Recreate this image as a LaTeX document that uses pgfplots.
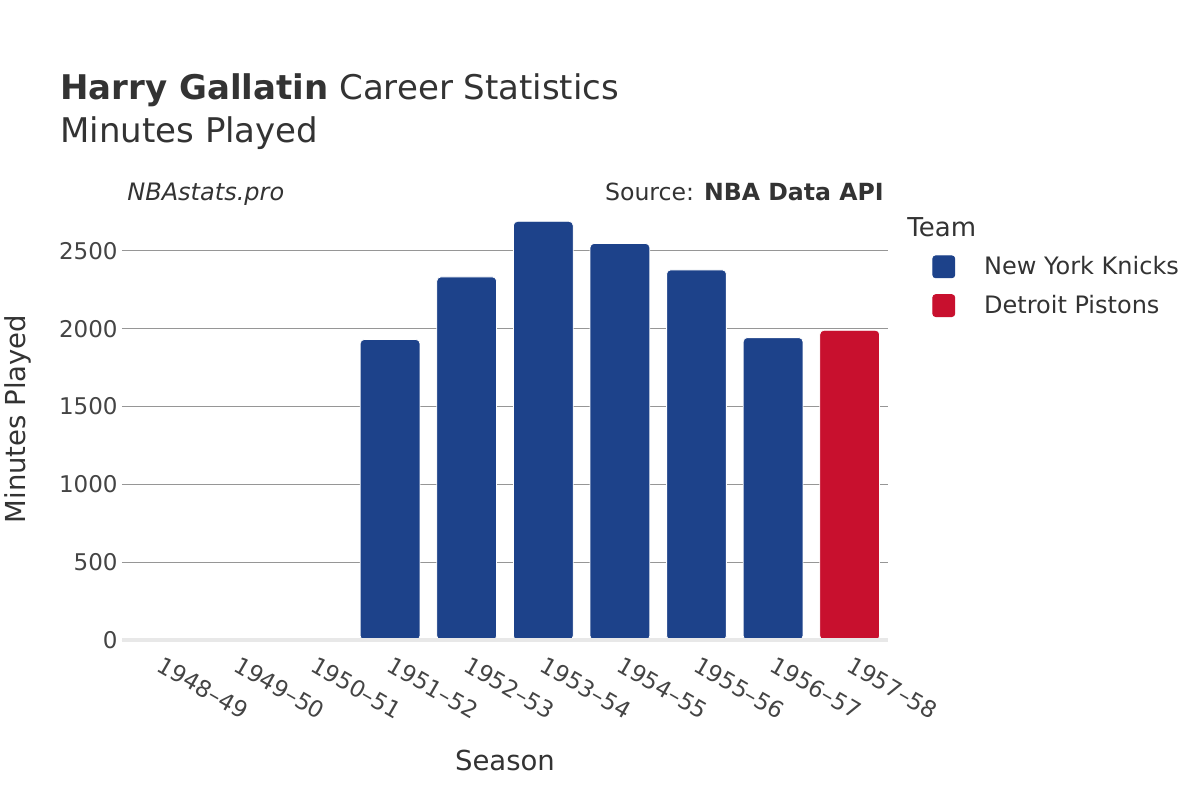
\documentclass[border=0pt]{standalone}
\usepackage{fontspec}
\setmainfont{DejaVu Sans}
\usepackage{pgfplots}
\pgfplotsset{compat=1.18}
\definecolor{knicks}{RGB}{29,66,138}
\definecolor{pistons}{RGB}{200,16,46}
\definecolor{txt}{RGB}{51,51,51}
\definecolor{tickc}{RGB}{68,68,68}
\definecolor{gridc}{RGB}{150,150,150}
\definecolor{zeroc}{RGB}{232,232,232}

\begin{document}
\begin{tikzpicture}[x=1pt,y=1pt]
\path[use as bounding box] (0,0) rectangle (600,400);
\begin{axis}[
  at={(61pt,80pt)}, anchor=south west,
  scale only axis, width=383pt, height=214pt,
  xmin=-0.5, xmax=9.5, ymin=0, ymax=2750,
  clip=false,
  ybar, bar width=0.78,
  axis line style={draw=none},
  major tick length=0pt,
  ytick={0,500,1000,1500,2000,2500},
  xtick={0,...,9},
  xticklabels={1948--49,1949--50,1950--51,1951--52,1952--53,1953--54,1954--55,1955--56,1956--57,1957--58},
  ymajorgrids, grid style={gridc, line width=0.5pt},
  tick label style={font=\fontsize{11.5}{13}\selectfont, color=tickc},
  /pgf/number format/assume math mode=true,
  /pgf/number format/1000 sep={},
  yticklabel style={anchor=east, inner sep=0pt, xshift=-2pt},
  xticklabel style={rotate=-30, anchor=north west, inner sep=0pt, xshift=5.5pt, yshift=-5.5pt},
  legend cell align=left,
  legend style={at={(1.0574,0.8995)}, anchor=north west, draw=none, fill=none,
    inner sep=0pt, nodes={inner sep=0pt}, row sep=8pt,
    font=\fontsize{12}{14}\selectfont, text=txt},
]
\addplot[fill=knicks, draw=white, line width=0.4pt, rounded corners=2pt, bar shift=0pt,
  legend image code/.code={\fill[knicks, rounded corners=1.5pt] (0pt,-5.5pt) rectangle (11pt,5.5pt); \path (25.5pt,0pt);}]
  coordinates {(3,1931)(4,2333)(5,2690)(6,2548)(7,2378)(8,1943)};
\addlegendentry{New York Knicks}
\addplot[fill=pistons, draw=white, line width=0.4pt, rounded corners=2pt, bar shift=0pt,
  legend image code/.code={\fill[pistons, rounded corners=1.5pt] (0pt,-5.5pt) rectangle (11pt,5.5pt); \path (25.5pt,0pt);}]
  coordinates {(9,1990)};
\addlegendentry{Detroit Pistons}
\draw[zeroc, line width=2pt] (axis cs:-0.5,0) -- (axis cs:9.5,0);
\end{axis}
\begin{scope}[every node/.style={inner sep=0pt, text=txt}]
\node[anchor=base west, font=\fontsize{17}{20}\selectfont] at (30,350) {\textbf{Harry Gallatin} Career Statistics};
\node[anchor=base west, font=\fontsize{17}{20}\selectfont] at (30,328.5) {Minutes Played};
\node[anchor=base west, font=\fontsize{12}{14}\selectfont\itshape] at (63.5,300) {NBAstats.pro};
\node[anchor=base east, font=\fontsize{11.8}{14}\selectfont] at (442,300) {Source: \textbf{NBA Data API}};
\node[anchor=base west, font=\fontsize{13}{15}\selectfont] at (453.5,282) {Team};
\node[rotate=90, font=\fontsize{13.75}{16}\selectfont] at (9,190.5) {Minutes Played};
\node[font=\fontsize{13.75}{16}\selectfont] at (252.5,20) {Season};
\end{scope}
\end{tikzpicture}
\end{document}
